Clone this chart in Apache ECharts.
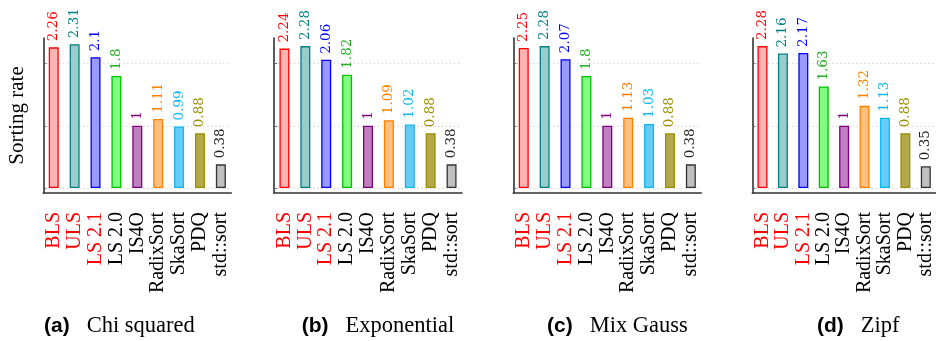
<!DOCTYPE html>
<html><head><meta charset="utf-8">
<script src="https://cdn.jsdelivr.net/npm/echarts@6/dist/echarts.min.js"></script>
<style>html,body{margin:0;padding:0;background:#fff}#c{width:936px;height:341px}</style>
</head><body><div id="c"></div>
<script>
// ---- data ----
const categories = ['BLS', 'ULS', 'LS 2.1', 'LS 2.0', 'IS4O', 'RadixSort', 'SkaSort', 'PDQ', 'std::sort'];
const chiSquared  = [2.26, 2.31, 2.1, 1.8, 1, 1.11, 0.99, 0.88, 0.38];
const exponential = [2.24, 2.28, 2.06, 1.82, 1, 1.09, 1.02, 0.88, 0.38];
const mixGauss    = [2.25, 2.28, 2.07, 1.8, 1, 1.13, 1.03, 0.88, 0.38];
const zipf        = [2.28, 2.16, 2.17, 1.63, 1, 1.32, 1.13, 0.88, 0.35];
const panelTags  = ['(a)', '(b)', '(c)', '(d)'];
const panelNames = ['Chi squared', 'Exponential', 'Mix Gauss', 'Zipf'];
const yAxisName = 'Sorting rate';
const yTicks = [0, 1, 2];
const highlighted = ['BLS', 'ULS', 'LS 2.1'];

// ---- styles / layout ----
const fillColors = ['#ffb3b3', '#99cccc', '#9999ff', '#80ff80', '#bf80bf', '#ffbf80', '#66ccf5', '#b3a94a', '#bfbfbf'];
const edgeColors = ['#ff0000', '#008080', '#0000ff', '#00c000', '#800080', '#ff8000', '#10b8f0', '#9a9000', '#333333'];
const textColors = ['#ff0000', '#008080', '#0000ff', '#20b020', '#800080', '#ff8000', '#10b8f0', '#9a9000', '#222222'];
const gridLefts  = [43.3, 274, 513.3, 752.3];
const titleLefts = [44, 301.7, 547, 817];
const panels = [chiSquared, exponential, mixGauss, zipf];

const chart = echarts.init(document.getElementById('c'), null, {renderer: 'canvas'});
const grids = [], xAxes = [], yAxes = [], series = [], titles = [];
panels.forEach((vals, i) => {
  grids.push({left: gridLefts[i], top: 38, width: 188, height: 155, containLabel: false});
  xAxes.push({
    type: 'category', gridIndex: i, data: categories,
    axisLine: {onZero: false, lineStyle: {color: '#333', width: 1.6}},
    axisTick: {show: false},
    axisLabel: {
      rotate: 90, margin: 19, fontFamily: 'Liberation Serif', fontSize: 20, interval: 0,
      color: (v) => highlighted.includes(v) ? '#ff0000' : '#000'
    }
  });
  yAxes.push({
    type: 'value', gridIndex: i, min: -0.08, max: 2.41,
    name: i === 0 ? yAxisName : '', nameLocation: 'middle', nameGap: 15, nameRotate: 90,
    nameTextStyle: {fontFamily: 'Liberation Serif', fontSize: 21, color: '#000'},
    axisLine: {show: true, lineStyle: {color: '#333', width: 1.6}},
    axisTick: {show: true, inside: true, length: 3, customValues: yTicks, lineStyle: {color: '#666'}},
    axisLabel: {show: false},
    splitLine: {show: true, lineStyle: {color: '#c8c8c8', type: [1, 3], width: 1}}
  });
  series.push({
    type: 'bar', xAxisIndex: i, yAxisIndex: i, barWidth: 10,
    data: vals.map((v, j) => ({
      value: v,
      itemStyle: {color: fillColors[j], borderColor: edgeColors[j], borderWidth: 1.3},
      label: {color: textColors[j]}
    })),
    label: {
      show: true, position: 'top', rotate: 90, align: 'left', verticalAlign: 'middle', distance: 6,
      fontFamily: 'DejaVu Serif', fontSize: 13.5,
      formatter: (p) => String(p.value)
    },
    animation: false
  });
  titles.push({
    left: titleLefts[i], top: 315, padding: 0,
    text: '{b|' + panelTags[i] + '}{n|' + panelNames[i] + '}',
    textStyle: {fontWeight: 'normal', rich: {
      b: {fontFamily: 'Liberation Sans', fontWeight: 'bold', fontSize: 21, color: '#000', padding: [0, 17, 0, 0]},
      n: {fontFamily: 'Liberation Serif', fontWeight: 'normal', fontSize: 22.5, color: '#000'}
    }}
  });
});

chart.setOption({
  backgroundColor: '#fff',
  animation: false,
  title: titles,
  grid: grids,
  xAxis: xAxes,
  yAxis: yAxes,
  series: series
});
</script>
</body></html>
